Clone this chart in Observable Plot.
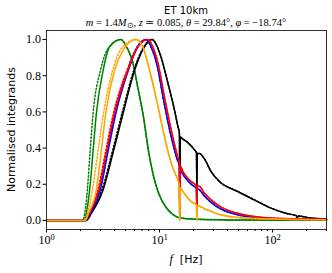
<!DOCTYPE html>
<html><head><meta charset="utf-8">
<script src="https://cdn.jsdelivr.net/npm/d3@7"></script>
<script src="https://cdn.jsdelivr.net/npm/@observablehq/plot@0.6"></script>
<style>html,body{margin:0;padding:0;background:#fff;}</style>
</head><body><div id="chart"></div>
<script>
// ---- data: [frequency Hz, normalised integrand] ----
const greenRise  = [[1,0],[2.15,0],[2.25,0.04],[2.41,0.17],[2.58,0.38],[2.76,0.59],[3.17,0.83],[3.62,0.96],[4.53,1.0]];
const greenDotRise = [[1,0],[2.1,0],[2.18,0.04],[2.3,0.17],[2.43,0.38],[2.58,0.59],[3.0,0.83],[3.5,0.95],[4.53,1.0]];
const greenFall  = [[5.2,0.95],[5.82,0.87],[6.4,0.74],[7.13,0.59],[8.16,0.35],[9.35,0.19],[10.3,0.12],[11.5,0.07],[13,0.035],[15,0.015],[18,0.009],[22,0.006],[40,0.003],[300,0.001]];

const orangeRise = [[1,0],[2.2,0],[2.35,0.04],[2.76,0.17],[3.05,0.38],[3.34,0.59],[4.0,0.83],[4.75,0.94],[6.2,1.0]];
const orangeDotRise = [[1,0],[2.15,0],[2.3,0.04],[2.55,0.17],[2.85,0.38],[3.19,0.59],[3.85,0.83],[4.6,0.95],[6.2,1.0]];
const orangeFall = [[7.2,0.95],[8.16,0.83],[9.0,0.72],[10.0,0.59],[11.0,0.47],[12.25,0.35],[13.5,0.27],[14.9,0.2],[15.1,0.0],[15.3,0.18],[16.1,0.16],[19,0.105],[21.2,0.085],[21.4,0.0],[21.6,0.082],[25,0.065],[35,0.031],[49,0.016],[97,0.008],[300,0.004]];

const redRise = [[1,0],[2.2,0],[2.4,0.04],[2.91,0.17],[3.4,0.38],[3.98,0.59],[5.24,0.83],[6.3,0.95],[7.9,1.0]];
const redDotRise = [[1,0],[2.18,0],[2.37,0.04],[2.85,0.17],[3.33,0.38],[3.9,0.59],[5.15,0.83],[6.25,0.95],[7.9,1.0]];
const redFall = [[8.7,0.96],[9.68,0.87],[11.07,0.68],[12.68,0.5],[14.5,0.35],[15.0,0.32],[15.1,0.03],[15.3,0.3],[16.1,0.27],[19.05,0.215],[21.2,0.19],[21.4,0.05],[21.6,0.19],[22.3,0.19],[25,0.15],[28.6,0.114],[35,0.074],[49,0.04],[69,0.022],[97,0.013],[300,0.006]];

const blueRise = [[1,0],[2.22,0],[2.45,0.04],[3.0,0.17],[3.5,0.38],[4.1,0.59],[5.3,0.83],[6.3,0.95],[7.6,1.0]];
const blueDotRise = [[1,0],[2.2,0],[2.42,0.04],[2.95,0.17],[3.45,0.38],[4.03,0.59],[5.2,0.83],[6.2,0.95],[7.6,1.0]];
const blueFall = [[8.4,0.96],[9.5,0.86],[10.9,0.66],[12.5,0.48],[14.3,0.34],[15.0,0.3],[15.1,0.03],[15.3,0.28],[16.1,0.255],[19.05,0.2],[21.2,0.175],[21.4,0.05],[21.6,0.175],[22.3,0.172],[25,0.135],[28.6,0.1],[35,0.063],[49,0.032],[69,0.017],[97,0.01],[300,0.005]];

const blackRise = [[1,0],[2.25,0],[2.5,0.04],[3.17,0.17],[3.9,0.38],[4.75,0.59],[6.02,0.83],[7.2,0.95],[8.6,1.0]];
const blackDotRise = [[1,0],[2.22,0],[2.47,0.04],[3.1,0.17],[3.82,0.38],[4.65,0.59],[5.92,0.83],[7.1,0.95],[8.6,1.0]];
const blackFall = [[9.4,0.97],[10.35,0.9],[11.86,0.76],[13.56,0.61],[14.53,0.52],[15.0,0.48],[15.1,0.02],[15.3,0.46],[16.09,0.45],[17.81,0.43],[20.37,0.39],[21.2,0.375],[21.4,0.18],[21.6,0.37],[22.54,0.37],[24.96,0.34],[28.6,0.27],[33.9,0.215],[49.2,0.16],[68.9,0.114],[96.8,0.068],[136,0.037],[162,0.026],[166,0.016],[170,0.024],[218,0.013],[300,0.008]];

const yTicks = [0, 0.2, 0.4, 0.6, 0.8, 1.0];
const xTicks = [1, 10, 100];
const xExponents = ["0", "1", "2"];
const xMinor = [2,3,4,5,6,7,8,9,20,30,40,50,60,70,80,90,200,300];

const series = [
  {c: "green",  solid: greenRise.concat(greenFall),   dotted: greenDotRise.concat(greenFall)},
  {c: "black",  solid: blackRise.concat(blackFall),   dotted: blackDotRise.concat(blackFall)},
  {c: "blue",   solid: blueRise.concat(blueFall),     dotted: blueDotRise.concat(blueFall)},
  {c: "red",    solid: redRise.concat(redFall),       dotted: redDotRise.concat(redFall)},
  {c: "orange", solid: orangeRise.concat(orangeFall), dotted: orangeDotRise.concat(orangeFall)}
];

const lineMarks = [];
for (const s of series) {
  lineMarks.push(Plot.line(s.dotted, {stroke: s.c, strokeWidth: 1.5, strokeDasharray: "1.5,2", curve: "monotone-x"}));
  lineMarks.push(Plot.line(s.solid, {stroke: s.c, strokeWidth: 1.5, curve: "monotone-x"}));
}

const svg = Plot.plot({
  width: 332, height: 273,
  marginTop: 30, marginRight: 6, marginBottom: 44, marginLeft: 46,
  style: {fontFamily: "Liberation Serif", fontSize: "12px", background: "white", color: "black"},
  x: {type: "log", domain: [1, 300]},
  y: {domain: [-0.05, 1.05]},
  marks: [
    ...lineMarks,
    Plot.frame({stroke: "black", strokeWidth: 0.8}),
    Plot.axisX(xMinor, {tickSize: 2, tickFormat: () => "", label: null}),
    Plot.axisX(xTicks, {tickSize: 3.5, tickPadding: 2, tickFormat: () => "10", label: null, fontSize: 12}),
    Plot.axisY(yTicks, {tickSize: 3.5, tickPadding: 2, tickFormat: d3.format(".1f"), label: null, fontSize: 12})
  ]
});

const root = d3.select(svg);
// superscript exponents on the major x tick labels (in tick order 1, 10, 100)
let k = 0;
root.selectAll('g[aria-label="x-axis tick label"] text').each(function() {
  const t = d3.select(this);
  if (t.text() !== "10") return;
  t.append("tspan").attr("dy", "-0.45em").attr("font-size", "8.5px").text(xExponents[k++]);
});

// title
root.append("text").attr("x", 186).attr("y", 13.5).attr("text-anchor", "middle")
  .attr("font-family", "DejaVu Sans").attr("font-size", "10px").text("ET 10km");

// y label
root.append("text").attr("transform", "translate(12,129.5) rotate(-90)").attr("text-anchor", "middle")
  .attr("dominant-baseline", "middle").attr("font-family", "DejaVu Sans").attr("font-size", "11px")
  .text("Normalised integrands");

// subtitle with math styling
const sub = root.append("text").attr("x", 186).attr("y", 25.5).attr("text-anchor", "middle")
  .attr("font-family", "Liberation Serif").attr("font-size", "10.5px");
const parts = [["m",1],[" = 1.4",0],["M",1],["⊙",2],[", ",0],["z",1],[" ≃ 0.085, ",0],["θ",1],[" = 29.84°, ",0],["φ",1],[" = −18.74°",0]];
let shifted = false;
for (const [t, kind] of parts) {
  const ts = sub.append("tspan").text(t);
  if (kind === 1) ts.attr("font-style", "italic");
  if (kind === 2) { ts.attr("font-size", "7.5px").attr("dy", "2"); shifted = true; }
  else if (shifted) { ts.attr("dy", "-2"); shifted = false; }
}
// x label
const xl = root.append("text").attr("x", 186).attr("y", 263).attr("text-anchor", "middle").attr("font-size", "11px");
xl.append("tspan").attr("font-family", "Liberation Serif").attr("font-style", "italic").attr("font-size", "12px").text("f");
xl.append("tspan").attr("font-family", "DejaVu Sans").text("  [Hz]");

document.getElementById("chart").appendChild(svg);
</script>
</body></html>
